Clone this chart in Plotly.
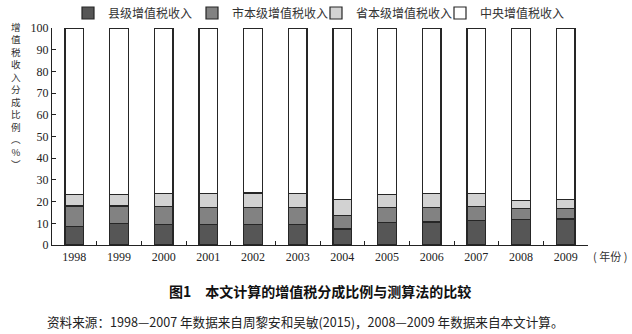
import plotly.graph_objects as go

years = ["1998", "1999", "2000", "2001", "2002", "2003", "2004", "2005", "2006", "2007", "2008", "2009"]
county = [8.7, 10.0, 9.5, 9.5, 9.5, 9.5, 7.4, 10.3, 10.6, 11.2, 11.7, 12.0]
city = [9.3, 8.0, 8.2, 7.7, 7.7, 7.7, 6.1, 7.1, 6.8, 6.7, 5.1, 4.9]
province = [5.4, 5.4, 6.2, 6.4, 6.8, 6.4, 7.3, 5.8, 6.2, 5.7, 3.7, 3.9]
central = [round(100 - a - b - c, 1) for a, b, c in zip(county, city, province)]

series_names = ["县级增值税收入", "市本级增值税收入", "省本级增值税收入", "中央增值税收入"]
series_values = [county, city, province, central]
series_colors = ["#565656", "#828282", "#d2d2d2", "#ffffff"]

y_ticks = [0, 10, 20, 30, 40, 50, 60, 70, 80, 90, 100]

CJK = "Noto Sans CJK SC"
SERIF = "Liberation Serif"

fig = go.Figure()
for name, vals, col in zip(series_names, series_values, series_colors):
    fig.add_trace(go.Bar(
        x=years, y=vals, name=name, width=0.42,
        marker=dict(color=col, line=dict(color="#262626", width=1.2)),
    ))

W, H = 632, 334
L, R, T, B = 52, 44, 28, 89
ph = H - T - B
pw = W - L - R

def px(x):
    return (x - L) / pw

def py(y):
    return (H - B - y) / ph

annotations = []
ytitle = "<br>".join(["增", "值", "税", "收", "入", "分", "成", "比", "例", "︵", "%", "︶"])
annotations.append(dict(
    text=ytitle, x=px(16), y=py(19), xref="paper", yref="paper",
    showarrow=False, xanchor="center", yanchor="top", borderpad=0,
    font=dict(family=CJK, size=9.6, color="#333"),
))
annotations.append(dict(
    text="( 年份 )", x=px(591), y=py(256), xref="paper", yref="paper",
    showarrow=False, xanchor="left", yanchor="middle",
    font=dict(family=CJK, size=11, color="#333"),
))
annotations.append(dict(
    text="<b>图1　本文计算的增值税分成比例与测算法的比较</b>", x=px(320), y=py(291),
    xref="paper", yref="paper", showarrow=False, xanchor="center", yanchor="middle",
    font=dict(family=CJK, size=14, color="#111"),
))
annotations.append(dict(
    text="资料来源：1998—2007 年数据来自周黎安和吴敏(2015)，2008—2009 年数据来自本文计算。",
    x=px(45), y=py(321), xref="paper", yref="paper", showarrow=False,
    xanchor="left", yanchor="middle",
    font=dict(family=CJK, size=12.6, color="#222"),
))

fig.update_layout(
    width=W, height=H, barmode="stack",
    margin=dict(l=L, r=R, t=T, b=B, pad=0, autoexpand=False),
    plot_bgcolor="white", paper_bgcolor="white",
    showlegend=True,
    legend=dict(
        orientation="h", x=px(68), y=py(13), xref="paper", yref="paper",
        xanchor="left", yanchor="middle", itemwidth=30,
        entrywidth=79, entrywidthmode="pixels",
        font=dict(family=CJK, size=12, color="#333"),
        traceorder="normal", itemclick=False,
    ),
    annotations=annotations,
)
fig.update_xaxes(
    type="category", range=[-0.5, 11.5], showline=True, linecolor="#222", linewidth=1.2,
    ticks="inside", ticklen=4, tickcolor="#222", tickson="boundaries",
    tickfont=dict(family=SERIF, size=12, color="#222"), showgrid=False,
)
fig.update_yaxes(
    range=[0, 100], tickvals=y_ticks, showline=True, linecolor="#222", linewidth=1.2,
    ticks="inside", ticklen=4, tickcolor="#222",
    tickfont=dict(family=SERIF, size=12, color="#222"), showgrid=False, zeroline=False,
)

fig.write_html("out.html")
